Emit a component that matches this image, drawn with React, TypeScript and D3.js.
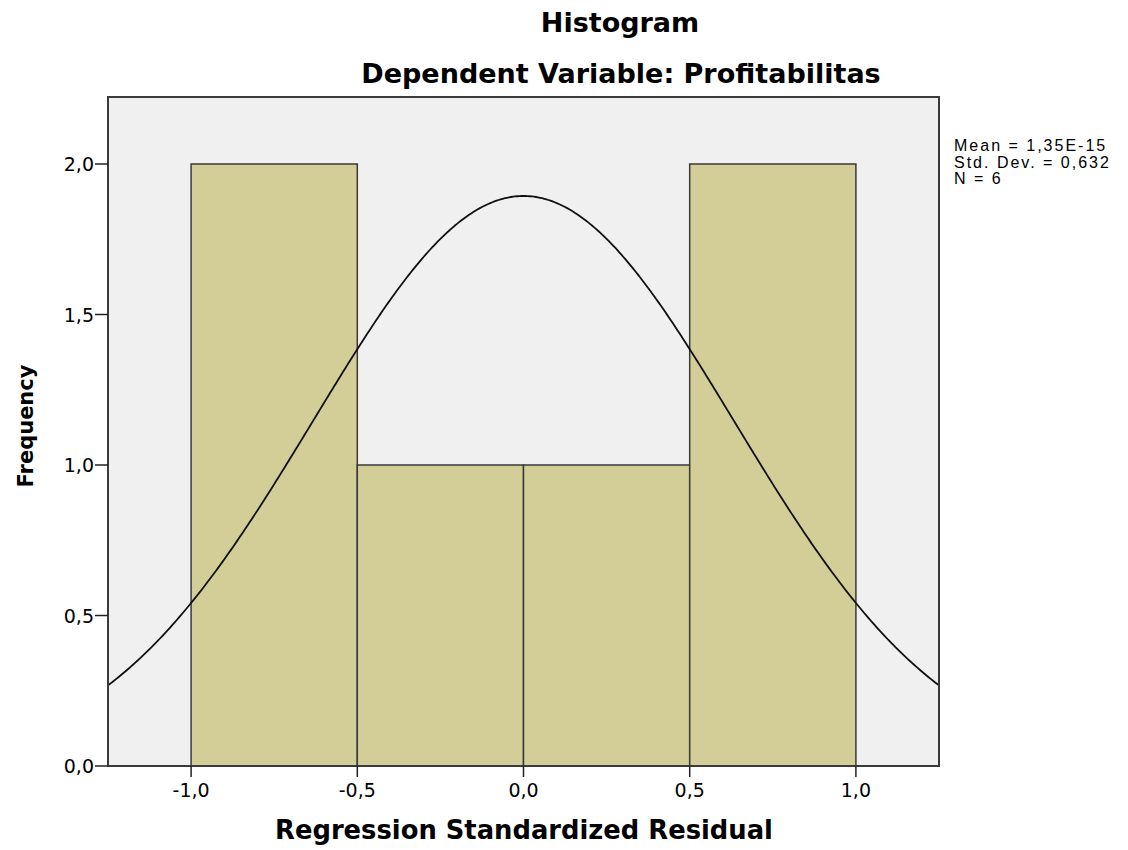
import React from "react";
import * as d3 from "d3";

const binStarts = [-1.0, -0.5, 0.0, 0.5];
const binEnds = [-0.5, 0.0, 0.5, 1.0];
const frequencies = [2, 1, 1, 2];
const xTicks = [-1.0, -0.5, 0.0, 0.5, 1.0];
const yTicks = [0, 0.5, 1.0, 1.5, 2.0];
const statMean = 1.35e-15;
const statSd = 0.632;
const statN = 6;
const statLines = ["Mean = 1,35E-15", "Std. Dev. = 0,632", "N = 6"];

const fmt = (v: number) => v.toFixed(1).replace(".", ",");

export default function App() {
  const W = 1128, H = 850;
  const left = 108, right = 939, top = 97, bottom = 766;
  const x = d3.scaleLinear().domain([-1.25, 1.25]).range([left, right]);
  const y = d3.scaleLinear().domain([0, 2.0]).range([bottom, 164]);
  const binW = 0.5;
  const pts: [number, number][] = d3.range(0, 401).map((i) => {
    const xv = -1.25 + (2.5 * i) / 400;
    const dens = Math.exp(-0.5 * ((xv - statMean) / statSd) ** 2) / (statSd * Math.sqrt(2 * Math.PI));
    return [xv, statN * binW * dens];
  });
  const line = d3.line<[number, number]>().x((d) => x(d[0])).y((d) => y(d[1]));
  const font = "'DejaVu Sans', Verdana, sans-serif";
  return (
    <svg width={W} height={H} style={{ position: "absolute", left: 0, top: 0 }} fontFamily={font}>
      <rect x={0} y={0} width={W} height={H} fill="#fff" />
      <text x={620} y={32} textAnchor="middle" fontSize={27} fontWeight="bold">Histogram</text>
      <text x={621} y={83} textAnchor="middle" fontSize={27} fontWeight="bold">Dependent Variable: Profitabilitas</text>
      <rect x={left} y={top} width={right - left} height={bottom - top} fill="#f0f0f0" />
      {frequencies.map((f, i) => (
        <rect key={i} x={x(binStarts[i])} y={y(f)} width={x(binEnds[i]) - x(binStarts[i])} height={bottom - y(f)}
          fill="#d3ce98" stroke="#3a3a3a" strokeWidth={1.5} />
      ))}
      <path d={line(pts) || ""} fill="none" stroke="#111" strokeWidth={1.8} />
      <rect x={left} y={top} width={right - left} height={bottom - top} fill="none" stroke="#3a3a3a" strokeWidth={2} />
      {yTicks.map((t) => (
        <g key={t}>
          <line x1={left - 13} x2={left} y1={y(t)} y2={y(t)} stroke="#222" strokeWidth={1.5} />
          <text x={left - 14} y={y(t) + 7} textAnchor="end" fontSize={19}>{fmt(t)}</text>
        </g>
      ))}
      {xTicks.map((t) => (
        <g key={t}>
          <line x1={x(t)} x2={x(t)} y1={bottom} y2={bottom + 11} stroke="#222" strokeWidth={1.5} />
          <text x={x(t)} y={bottom + 31} textAnchor="middle" fontSize={19}>{fmt(t)}</text>
        </g>
      ))}
      <text x={524} y={839} textAnchor="middle" fontSize={25.8} fontWeight="bold">Regression Standardized Residual</text>
      <text transform={`translate(33,426) rotate(-90)`} textAnchor="middle" fontSize={21} fontWeight="bold">Frequency</text>
      {statLines.map((s, i) => (
        <text key={i} x={954} y={151 + i * 16.5} fontSize={16} letterSpacing={2}
          fontFamily="'Liberation Sans', Arial, sans-serif">{s}</text>
      ))}
    </svg>
  );
}
